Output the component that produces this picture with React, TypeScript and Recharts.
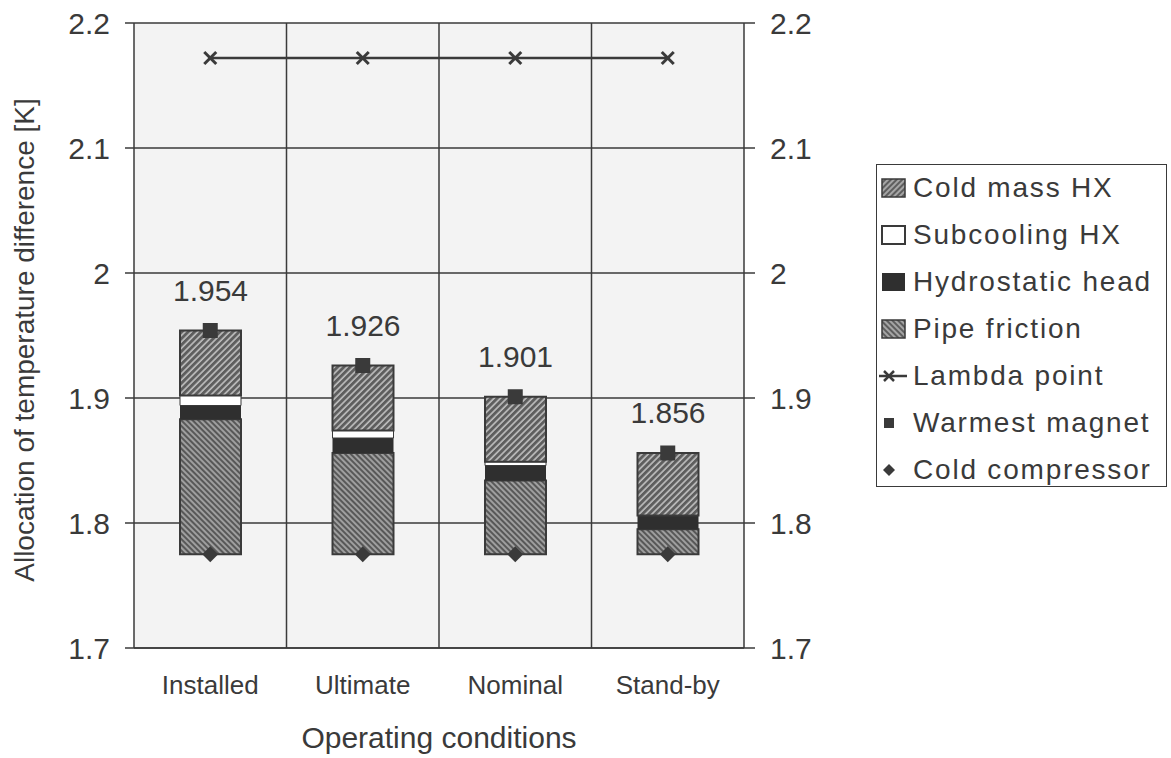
import {
  Bar,
  CartesianGrid,
  ComposedChart,
  LabelList,
  Legend,
  Line,
  Scatter,
  XAxis,
  YAxis
} from 'recharts';

const categories = ['Installed', 'Ultimate', 'Nominal', 'Stand-by'];
const baseline = [1.775, 1.775, 1.775, 1.775];
const pipeFriction = [0.108, 0.081, 0.059, 0.02];
const hydrostaticHead = [0.011, 0.012, 0.012, 0.011];
const subcoolingHX = [0.008, 0.006, 0.003, 0];
const coldMassHX = [0.052, 0.052, 0.052, 0.05];
const lambdaPoint = [2.172, 2.172, 2.172, 2.172];
const warmestMagnet = [1.954, 1.926, 1.901, 1.856];
const coldCompressor = [1.775, 1.775, 1.775, 1.775];
const yTicks = [1.7, 1.8, 1.9, 2, 2.1, 2.2];

const data = categories.map((name, i) => ({
  name,
  base: baseline[i],
  pipe: pipeFriction[i],
  hydro: hydrostaticHead[i],
  sub: subcoolingHX[i],
  cold: coldMassHX[i],
  lambda: lambdaPoint[i],
  warmest: warmestMagnet[i],
  compressor: coldCompressor[i]
}));

const INK = '#3a3a3a';
const FONT = '"Liberation Sans", Arial, sans-serif';

const Cross = (props: any) => {
  const { cx, cy } = props;
  if (cx == null || cy == null) return null;
  const s = 6;
  return (
    <g stroke={INK} strokeWidth={3}>
      <line x1={cx - s} y1={cy - s} x2={cx + s} y2={cy + s} />
      <line x1={cx - s} y1={cy + s} x2={cx + s} y2={cy - s} />
    </g>
  );
};

const SquareMark = (props: any) => (
  <rect x={props.cx - 7.5} y={props.cy - 7.5} width={15} height={15} fill={INK} />
);

const DiamondMark = (props: any) => (
  <path
    d={`M${props.cx},${props.cy - 8} L${props.cx + 8},${props.cy} L${props.cx},${props.cy + 8} L${props.cx - 8},${props.cy} Z`}
    fill={INK}
  />
);

const legendRows = [
  { label: 'Cold mass HX', kind: 'cold' },
  { label: 'Subcooling HX', kind: 'sub' },
  { label: 'Hydrostatic head', kind: 'hydro' },
  { label: 'Pipe friction', kind: 'pipe' },
  { label: 'Lambda point', kind: 'lambda' },
  { label: 'Warmest magnet', kind: 'warm' },
  { label: 'Cold compressor', kind: 'comp' }
];

function LegendIcon({ kind }: { kind: string }) {
  return (
    <svg width={28} height={24} style={{ display: 'block' }}>
      <defs>
        <pattern id={'lg-' + kind} patternUnits='userSpaceOnUse' width={4} height={4} patternTransform={kind === 'cold' ? 'rotate(45)' : 'rotate(-45)'}>
          <rect width={4} height={4} fill='#5e5e5e' />
          <line x1={1} y1={0} x2={1} y2={4} stroke='#c4c4c4' strokeWidth={1.4} />
        </pattern>
      </defs>
      {(kind === 'cold' || kind === 'pipe') && (
        <rect x={3} y={3} width={23} height={18} fill={`url(#lg-${kind})`} stroke={INK} strokeWidth={1.5} />
      )}
      {kind === 'sub' && <rect x={3} y={3} width={23} height={18} fill='#fff' stroke={INK} strokeWidth={2} />}
      {kind === 'hydro' && <rect x={3} y={3} width={23} height={18} fill='#2f2f2f' />}
      {kind === 'lambda' && (
        <g stroke={INK} strokeWidth={2.5}>
          <line x1={0} y1={12} x2={28} y2={12} />
          <line x1={5} y1={7} x2={15} y2={17} />
          <line x1={5} y1={17} x2={15} y2={7} />
        </g>
      )}
      {kind === 'warm' && <rect x={5} y={7} width={10} height={10} fill={INK} />}
      {kind === 'comp' && <path d='M10,6 L16,12 L10,18 L4,12 Z' fill={INK} />}
    </svg>
  );
}

const renderLegend = () => (
  <div
    style={{
      width: 291,
      height: 323,
      border: `1.5px solid ${INK}`,
      boxSizing: 'border-box',
      background: '#fff',
      fontFamily: FONT,
      color: INK
    }}
  >
    {legendRows.map((r) => (
      <div key={r.label} style={{ height: 47, display: 'flex', alignItems: 'center', marginTop: r.kind === 'cold' ? -1 : 0 }}>
        <div style={{ width: 34, paddingLeft: 2 }}>
          <LegendIcon kind={r.kind} />
        </div>
        <span style={{ fontSize: 28, letterSpacing: 1.8, whiteSpace: 'nowrap' }}>{r.label}</span>
      </div>
    ))}
  </div>
);

function App() {
  return (
    <div style={{ position: 'absolute', left: 0, top: 0, background: '#fff' }}>
      <ComposedChart
        width={1171}
        height={758}
        data={data}
        margin={{ top: 23, right: 347, bottom: 70, left: 74 }}
        barSize={61}
        style={{ fontFamily: FONT }}
      >
        <defs>
          <pattern id='coldHatch' patternUnits='userSpaceOnUse' width={4.5} height={4.5} patternTransform='rotate(45)'>
            <rect width={4.5} height={4.5} fill='#5e5e5e' />
            <line x1={1} y1={0} x2={1} y2={4.5} stroke='#c6c6c6' strokeWidth={1.5} />
          </pattern>
          <pattern id='pipeHatch' patternUnits='userSpaceOnUse' width={4} height={4} patternTransform='rotate(-45)'>
            <rect width={4} height={4} fill='#585858' />
            <line x1={1} y1={0} x2={1} y2={4} stroke='#bdbdbd' strokeWidth={1.4} />
          </pattern>
        </defs>
        <CartesianGrid
          fill='#f3f3f3'
          stroke={INK}
          strokeWidth={1.5}
          strokeOpacity={1}
          verticalCoordinatesGenerator={({ offset }: any) =>
            [1, 2, 3].map((i) => offset.left + (offset.width * i) / 4)
          }
        />
        <XAxis
          dataKey='name'
          height={40}
          tickSize={0}
          tickMargin={28}
          axisLine={{ stroke: INK, strokeWidth: 1.5 }}
          tick={{ fill: INK, fontSize: 26 }}
          label={{
            content: () => (
              <text x={439} y={748} textAnchor='middle' fontSize={30} fill={INK} fontFamily={FONT}>
                Operating conditions
              </text>
            )
          }}
        />
        <YAxis
          width={60}
          domain={[1.7, 2.2]}
          ticks={yTicks}
          allowDataOverflow
          interval={0}
          tickSize={9}
          tickMargin={15}
          axisLine={{ stroke: INK, strokeWidth: 1.5 }}
          tickLine={{ stroke: INK, strokeWidth: 1.5 }}
          tick={{ fill: INK, fontSize: 30 }}
          label={{
            content: () => (
              <text
                x={34}
                y={340}
                textAnchor='middle'
                fontSize={28}
                fill={INK}
                fontFamily={FONT}
                transform='rotate(-90, 34, 340)'
              >
                Allocation of temperature difference [K]
              </text>
            )
          }}
        />
        <YAxis
          yAxisId='right'
          orientation='right'
          width={80}
          domain={[1.7, 2.2]}
          ticks={yTicks}
          allowDataOverflow
          interval={0}
          tickSize={11}
          tickMargin={15}
          axisLine={{ stroke: INK, strokeWidth: 1.5 }}
          tickLine={{ stroke: INK, strokeWidth: 1.5 }}
          tick={{ fill: INK, fontSize: 30, textAnchor: 'start' }}
        />
        <Bar dataKey='base' stackId='a' fill='transparent' isAnimationActive={false} legendType='none' />
        <Bar dataKey='pipe' stackId='a' fill='url(#pipeHatch)' stroke={INK} strokeWidth={2} isAnimationActive={false} />
        <Bar dataKey='hydro' stackId='a' fill='#2f2f2f' isAnimationActive={false} />
        <Bar dataKey='sub' stackId='a' fill='#ffffff' stroke={INK} strokeWidth={1} isAnimationActive={false} />
        <Bar dataKey='cold' stackId='a' fill='url(#coldHatch)' stroke={INK} strokeWidth={2} isAnimationActive={false}>
          <LabelList
            dataKey='warmest'
            position='top'
            offset={30}
            fill={INK}
            fontSize={30}
            formatter={(v: any) => Number(v).toFixed(3)}
          />
        </Bar>
        <Line
          dataKey='lambda'
          stroke={INK}
          strokeWidth={2.5}
          dot={<Cross />}
          activeDot={false}
          isAnimationActive={false}
        />
        <Scatter dataKey='warmest' shape={<SquareMark />} isAnimationActive={false} />
        <Scatter dataKey='compressor' shape={<DiamondMark />} isAnimationActive={false} />
        <Legend
          layout='vertical'
          align='center'
          verticalAlign='middle'
          content={renderLegend}
          wrapperStyle={{ position: 'absolute', left: 876, top: 164, width: 291, height: 323 }}
        />
      </ComposedChart>
    </div>
  );
}

export default App;
